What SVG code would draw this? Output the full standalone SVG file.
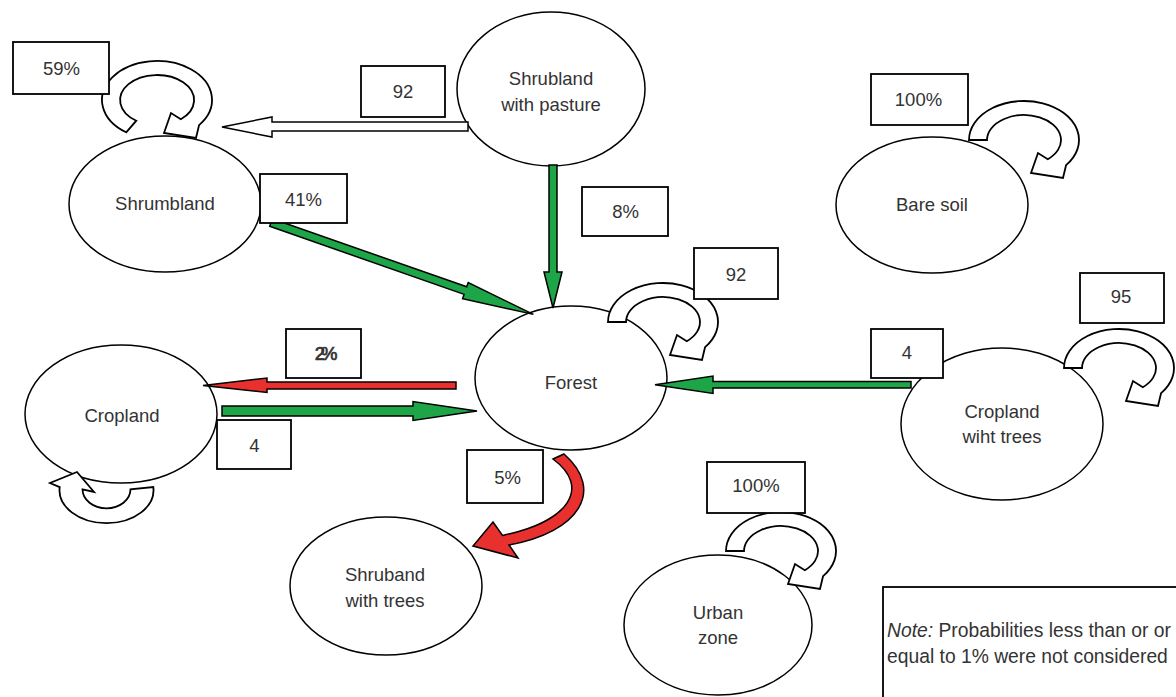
<svg xmlns="http://www.w3.org/2000/svg" xmlns:xlink="http://www.w3.org/1999/xlink" width="1176" height="697" viewBox="0 0 1176 697">
<style>
.node ellipse{fill:#fff;stroke:#000;stroke-width:1.5}
.t{font-family:"Liberation Sans",Arial,sans-serif;font-size:18.5px;fill:#333;text-anchor:middle}
.box rect{fill:#fff;stroke:#000;stroke-width:1.8}
.loop{fill:#fff;stroke:#000;stroke-width:1.8;stroke-linejoin:miter}
.g{fill:#1ea548;stroke:#000;stroke-width:1.5}
.r{fill:#e8312f;stroke:#000;stroke-width:1.5}
.w{fill:#fff;stroke:#000;stroke-width:1.5}
.note{font-family:"Liberation Sans",Arial,sans-serif;font-size:19.3px;fill:#333}
</style>
<defs>
<path id="loopA" d="M -55,0 A 55 39 0 1 1 42.1,25.1 L 39,38 L 7,33 L 14,13 L 23.8,19.2 A 37 25 0 1 0 -37,0 Z"/>
</defs>
<rect width="1176" height="697" fill="#fff"/>

<g id="node-shrubland-pasture" class="node"><ellipse cx="551" cy="89" rx="94" ry="77"/><text class="t" x="551" y="85">Shrubland</text><text class="t" x="551" y="111">with pasture</text></g>
<g id="node-shrumbland" class="node"><ellipse cx="165" cy="204" rx="96" ry="68"/><text class="t" x="165" y="210">Shrumbland</text></g>
<g id="node-bare-soil" class="node"><ellipse cx="932" cy="205" rx="96" ry="68"/><text class="t" x="932" y="211">Bare soil</text></g>
<g id="node-forest" class="node"><ellipse cx="571" cy="378" rx="96" ry="72"/><text class="t" x="571" y="389">Forest</text></g>
<g id="node-cropland" class="node"><ellipse cx="121" cy="414" rx="96" ry="69"/><text class="t" x="122" y="422">Cropland</text></g>
<g id="node-cropland-trees" class="node"><ellipse cx="1002" cy="424" rx="101" ry="76"/><text class="t" x="1002" y="418">Cropland</text><text class="t" x="1002" y="443">wiht trees</text></g>
<g id="node-shruband-trees" class="node"><ellipse cx="386" cy="586" rx="96" ry="69"/><text class="t" x="385" y="581">Shruband</text><text class="t" x="385" y="607">with trees</text></g>
<g id="node-urban" class="node"><ellipse cx="718" cy="625" rx="94" ry="70"/><text class="t" x="718" y="619">Urban</text><text class="t" x="718" y="644">zone</text></g>

<g id="connectors">
<polygon class="w" points="468,122 272,122 272,117 222,127 272,137 272,131 468,131"/>
<polygon class="g" transform="translate(271,222.5) rotate(19.3)" points="0,-4 206,-4 206,-8.5 278,0 206,8.5 206,4 0,4"/>
<polygon class="g" points="549,165 557,165 557,272 562,272 553,308 544,272 549,272"/>
<polygon class="r" points="456,382 267,382 267,378 203,385.5 267,392.5 267,389 456,389"/>
<polygon class="g" points="222,406 413,406 413,401.5 477,411 413,420.5 413,416 222,416"/>
<polygon class="g" points="911,381.5 713,381.5 713,376 655,384.8 713,393.5 713,388 911,388"/>
<path class="r" d="M 553,459 L 564,454 C 605,490 580,532 509,545 L 518,558 L 473,546 L 493,522 L 502.5,535.4 C 568,522 592,488 553,459 Z"/>
<use xlink:href="#loopA" href="#loopA" class="loop" transform="translate(663,322)"/>
<use xlink:href="#loopA" href="#loopA" class="loop" transform="translate(1024,140)"/>
<use xlink:href="#loopA" href="#loopA" class="loop" transform="translate(1119,368)"/>
<use xlink:href="#loopA" href="#loopA" class="loop" transform="translate(781,551)"/>
<path class="loop" transform="translate(157,100)" d="M -30.8,32.3 A 55 39 0 1 1 42.1,25.1 L 39,38 L 7,33 L 14,13 L 23.8,19.2 A 37 25 0 1 0 -20.7,20.7 Z"/>
<path class="loop" d="M 153.3,487.1 A 47 33 0 1 1 59.7,487.1 L 50,483 L 77,472 L 94,492 L 82.5,489.3 A 24 19 0 1 0 130.5,489.3 Z"/>
</g>

<g id="labels" class="box">
<rect x="13" y="42" width="96" height="52"/><text class="t" x="61.5" y="75">59%</text>
<rect x="361" y="66" width="84" height="51"/><text class="t" x="403" y="98">92</text>
<rect x="260" y="174" width="87" height="49"/><text class="t" x="303.5" y="206">41%</text>
<rect x="582" y="187" width="86" height="49"/><text class="t" x="625.5" y="218">8%</text>
<rect x="694" y="248" width="84" height="51"/><text class="t" x="736" y="280.5">92</text>
<rect x="286" y="329" width="75" height="49"/><text class="t" x="324" y="360" style="letter-spacing:-4px;stroke:#333;stroke-width:0.7">2%</text>
<rect x="217" y="420" width="74" height="49"/><text class="t" x="254.5" y="451.5">4</text>
<rect x="467" y="450" width="76" height="53"/><text class="t" x="507.5" y="484">5%</text>
<rect x="1080" y="273" width="84" height="50"/><text class="t" x="1121" y="303">95</text>
<rect x="871" y="329" width="72" height="49"/><text class="t" x="907" y="359">4</text>
<rect x="871" y="74" width="97" height="51"/><text class="t" x="918.5" y="105.5">100%</text>
<rect x="707" y="462" width="98" height="51"/><text class="t" x="756" y="491.5">100%</text>
</g>

<g id="note">
<rect x="883" y="587" width="300" height="120" fill="#fff" stroke="#000" stroke-width="1.8"/>
<text class="note" x="887" y="637"><tspan font-style="italic">Note:</tspan> Probabilities less than or or</text>
<text class="note" x="887" y="663">equal to 1% were not considered</text>
</g>
</svg>
